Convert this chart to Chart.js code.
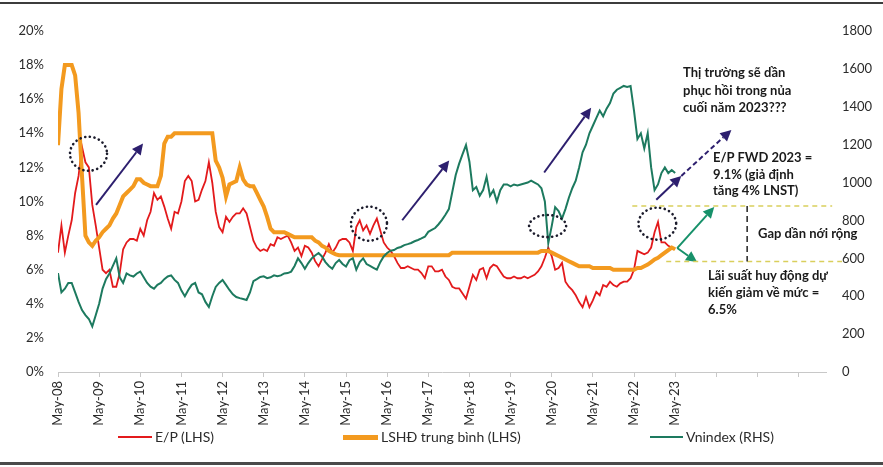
<!DOCTYPE html>
<html>
<head>
<meta charset="utf-8">
<script src="https://cdn.jsdelivr.net/npm/chart.js@4.4.0/dist/chart.umd.min.js"></script>
<style>
  body { margin: 0; background: #fff; }
  #wrap { position: relative; width: 883px; height: 467px; background: #fff; overflow: hidden; font-family: Lato, "Open Sans", sans-serif; }
  .frame { position: absolute; left: 0; width: 883px; background: #3c3c3c; }
  .note { position: absolute; font-weight: bold; font-size: 13px; color: #1a1a1a; white-space: nowrap; }
  .leg { position: absolute; font-size: 14px; color: #2b2b2b; line-height: 18px; white-space: nowrap; }
  .swatch { position: absolute; }
</style>
</head>
<body>
<div id="wrap">
  <canvas id="chart" width="883" height="467"></canvas>

  <div class="frame" style="top:2px;height:2px"></div>
  <div class="frame" style="top:462px;height:3px;background:#4a4a4a"></div>

  <div class="note" style="left:683px;top:64px;line-height:17.5px">Thị trường sẽ dần<br>phục hồi trong nủa<br>cuối năm 2023???</div>
  <div class="note" style="left:713px;top:149px;line-height:16.5px">E/P FWD 2023 =<br>9.1% (giả định<br>tăng 4% LNST)</div>
  <div class="note" style="left:758px;top:224px;line-height:18px">Gap dần nới rộng</div>
  <div class="note" style="left:708px;top:267px;line-height:17px">Lãi suất huy động dự<br>kiến giảm về mức =<br>6.5%</div>

  <div class="swatch" style="left:118px;top:436px;width:34px;height:2px;background:#e31a1c"></div>
  <div class="leg" style="left:155px;top:428px">E/P (LHS)</div>
  <div class="swatch" style="left:343px;top:435px;width:35px;height:5px;background:#f39a1f"></div>
  <div class="leg" style="left:381px;top:428px">LSHĐ trung bình (LHS)</div>
  <div class="swatch" style="left:650px;top:436px;width:33px;height:2px;background:#1d7a5f"></div>
  <div class="leg" style="left:686px;top:428px">Vnindex (RHS)</div>
</div>

<script>
// monthly points, month 0 = May-08
var tickLabels = ['May-08', 'May-09', 'May-10', 'May-11', 'May-12', 'May-13', 'May-14', 'May-15',
                  'May-16', 'May-17', 'May-18', 'May-19', 'May-20', 'May-21', 'May-22', 'May-23'];

var epValues = [
  7.0, 8.6, 7.0, 8.0, 8.9, 10.5, 11.5, 13.2, 12.3, 12.0,
  9.8, 8.6, 7.3, 6.0, 5.8, 6.0, 5.0, 5.0, 5.8, 7.2,
  7.6, 7.8, 7.8, 7.7, 8.4, 8.0, 8.9, 9.4, 10.5, 10.1,
  10.3, 9.7, 9.0, 8.4, 9.4, 9.3, 10.0, 11.2, 11.5, 11.2,
  10.0, 10.1, 10.7, 11.2, 12.3, 11.1, 9.4, 8.5, 8.2, 9.1,
  8.8, 9.1, 9.3, 9.3, 9.6, 9.3, 8.5, 7.7, 7.3, 7.1,
  7.2, 7.1, 7.5, 7.4, 7.9, 7.8, 7.9, 8.0, 7.6, 7.1,
  7.3, 6.8, 7.4, 7.3, 7.0, 6.5, 6.2, 6.6, 7.0, 7.5,
  7.0, 7.3, 7.7, 7.8, 7.8, 7.6, 7.1, 8.5, 8.9, 8.3,
  8.6, 8.1, 8.6, 9.0, 8.3, 7.6, 7.3, 7.1, 6.8, 6.4,
  6.1, 6.1, 6.2, 6.1, 6.0, 6.0, 5.8, 5.5, 6.2, 6.2,
  5.9, 5.9, 6.0, 5.6, 5.4, 5.0, 4.9, 4.9, 4.6, 4.3,
  5.0, 5.7, 5.4, 6.0, 6.1, 5.5, 6.1, 6.3, 6.2, 5.9,
  5.6, 5.5, 5.5, 5.6, 5.5, 5.5, 5.6, 5.5, 5.6, 5.7,
  5.9, 6.2, 6.7, 7.3, 6.8, 6.0, 6.1, 6.4, 5.3, 5.0,
  4.8, 4.5, 4.1, 3.8, 4.4, 3.8, 4.2, 4.7, 4.5, 5.1,
  5.0, 5.3, 5.1, 5.0, 5.2, 5.3, 5.3, 5.5, 6.0, 7.1,
  7.0, 6.9, 7.0, 7.3, 8.2, 8.8, 7.6, 7.6, 7.4, 7.3,
  7.2
];

var depositRate = [
  13.3, 16.6, 18.0, 18.0, 18.0, 17.4, 15.2, 11.5, 8.0, 7.6,
  7.4, 7.7, 7.9, 8.2, 8.4, 8.6, 9.0, 9.3, 9.8, 10.3,
  10.5, 10.7, 10.9, 11.3, 11.3, 11.1, 11.0, 10.9, 10.9, 10.9,
  11.5, 13.4, 13.8, 13.8, 14.0, 14.0, 14.0, 14.0, 14.0, 14.0,
  14.0, 14.0, 14.0, 14.0, 14.0, 14.0, 12.4, 12.0, 11.4, 10.3,
  11.0, 11.1, 11.2, 12.0, 11.3, 11.0, 10.9, 10.9, 10.5, 10.1,
  9.7, 9.1, 8.4, 8.2, 8.2, 8.2, 8.2, 8.1, 8.0, 7.9,
  7.9, 7.9, 7.9, 7.9, 7.9, 7.7, 7.6, 7.4, 7.3, 7.1,
  7.0, 6.9, 6.85, 6.85, 6.85, 6.85, 6.85, 6.85, 6.85, 6.85,
  6.85, 6.85, 6.85, 6.85, 6.85, 6.85, 6.85, 6.85, 6.85, 6.85,
  6.85, 6.85, 6.85, 6.85, 6.85, 6.85, 6.85, 6.85, 6.85, 6.85,
  6.85, 6.85, 6.85, 6.85, 6.85, 7.0, 7.0, 7.0, 7.0, 7.0,
  7.0, 7.0, 7.0, 7.0, 7.0, 7.0, 7.0, 7.0, 7.0, 7.0,
  7.0, 7.0, 7.0, 7.0, 7.0, 7.0, 7.0, 7.0, 7.0, 7.0,
  7.0, 7.1, 7.1, 7.1, 7.0, 6.9, 6.8, 6.7, 6.6, 6.5,
  6.4, 6.3, 6.2, 6.2, 6.2, 6.2, 6.1, 6.1, 6.1, 6.1,
  6.1, 6.1, 6.0, 6.0, 6.0, 6.0, 6.0, 6.0, 6.0, 6.1,
  6.1, 6.2, 6.3, 6.45, 6.6, 6.7, 6.85, 7.0, 7.15, 7.3,
  7.2
];

var vnindex = [
  522, 420, 440, 470, 470, 420, 370, 327, 300, 280,
  240, 300, 360, 440, 490, 520, 560, 600, 500, 470,
  520, 510, 504, 520, 530, 500, 470, 450, 440, 460,
  470, 490, 504, 510, 486, 470, 430, 400, 433, 460,
  470, 420, 410, 370, 343, 400, 449, 470, 486, 460,
  433, 410, 396, 390, 385, 380, 420, 480, 490, 502,
  505, 495, 500, 510, 505, 510, 520, 522, 530, 560,
  600, 575, 545, 575, 600, 615, 628, 610, 580, 560,
  545, 575, 591, 570, 557, 590, 600, 540, 580, 600,
  570, 560, 550, 540, 580, 610, 628, 640, 644, 655,
  660, 670, 675, 681, 690, 697, 705, 714, 740, 750,
  760, 780, 803, 830, 860, 950, 1040, 1100, 1150, 1198,
  1110, 960, 977, 930, 960, 1030, 930, 960, 900, 960,
  990, 990, 980, 990, 985, 990, 995, 1000, 1010, 1000,
  990, 970, 900, 680, 770, 870, 850, 810, 860, 920,
  970, 1010, 1080, 1160, 1200, 1260, 1300, 1340, 1380, 1350,
  1390, 1420, 1470, 1490, 1500, 1510, 1505, 1510, 1380, 1230,
  1260, 1180, 1260, 1080, 960, 990, 1050, 1080, 1050, 1066,
  1050
];

// callouts, in (month, % on left axis)
var circles = [
  { m: 8.9, v: 12.8, rm: 5.4, rv: 1.0 },
  { m: 90.7, v: 8.7, rm: 5.25, rv: 1.0 },
  { m: 142.8, v: 8.56, rm: 5.4, rv: 0.65 },
  { m: 174.8, v: 8.7, rm: 5.5, rv: 0.94 }
];
var navyArrows = [
  [11.1, 9.8, 24.8, 13.4],
  [100.4, 8.9, 114.1, 12.4],
  [141.8, 11.7, 155.5, 15.5],
  [174.5, 10.1, 181.8, 11.5]
];
var dashedArrow = [181.8, 11.5, 196.4, 14.2];
var greenArrows = [
  [180.6, 7.27, 191.4, 9.68],
  [180.6, 7.27, 186.4, 6.45]
];
var gapTop = [167.5, 225.8, 9.74];
var gapBottom = [177.4, 228.7, 6.48];
var gapMarker = [201, 9.74, 6.48];

function toPoints(arr) {
    return arr.map(function (v, i) { return { x: i, y: v }; });
}

function drawArrow(ctx, x1, y1, x2, y2, color, dashed) {
    var a = Math.atan2(y2 - y1, x2 - x1), L = 11, W = 5.5;
    var bx = x2 - L * Math.cos(a), by = y2 - L * Math.sin(a);
    ctx.strokeStyle = color;
    ctx.fillStyle = color;
    ctx.lineWidth = 2;
    ctx.lineCap = 'butt';
    ctx.setLineDash(dashed ? [5, 3] : []);
    ctx.beginPath();
    ctx.moveTo(x1, y1);
    ctx.lineTo(bx, by);
    ctx.stroke();
    ctx.setLineDash([]);
    ctx.beginPath();
    ctx.moveTo(x2, y2);
    ctx.lineTo(bx - W * Math.sin(a), by + W * Math.cos(a));
    ctx.lineTo(bx + W * Math.sin(a), by - W * Math.cos(a));
    ctx.closePath();
    ctx.fill();
}

var notesPlugin = {
    id: 'notes',
    afterDraw: function (chart) {
        var ctx = chart.ctx, xs = chart.scales.x, ys = chart.scales.y;
        var px = function (m) { return xs.getPixelForValue(m); };
        var py = function (v) { return ys.getPixelForValue(v); };
        ctx.save();

        ctx.strokeStyle = '#1c1c2c';
        ctx.lineWidth = 2.6;
        ctx.lineCap = 'round';
        ctx.setLineDash([0.1, 4.6]);
        circles.forEach(function (c) {
            var cx = px(c.m), cy = py(c.v);
            ctx.beginPath();
            ctx.ellipse(cx, cy, px(c.m + c.rm) - cx, cy - py(c.v + c.rv), 0, 0, Math.PI * 2);
            ctx.stroke();
        });

        navyArrows.forEach(function (a) {
            drawArrow(ctx, px(a[0]), py(a[1]), px(a[2]), py(a[3]), '#2d1f6e', false);
        });
        drawArrow(ctx, px(dashedArrow[0]), py(dashedArrow[1]), px(dashedArrow[2]), py(dashedArrow[3]), '#2d1f6e', true);
        greenArrows.forEach(function (a) {
            drawArrow(ctx, px(a[0]), py(a[1]), px(a[2]), py(a[3]), '#17916a', false);
        });

        ctx.lineWidth = 1.5;
        ctx.lineCap = 'butt';
        ctx.strokeStyle = '#d9cf5c';
        ctx.setLineDash([5, 4]);
        [gapTop, gapBottom].forEach(function (g) {
            ctx.beginPath();
            ctx.moveTo(px(g[0]), py(g[2]));
            ctx.lineTo(px(g[1]), py(g[2]));
            ctx.stroke();
        });
        ctx.strokeStyle = '#222';
        ctx.setLineDash([6, 4]);
        ctx.beginPath();
        ctx.moveTo(px(gapMarker[0]), py(gapMarker[1]));
        ctx.lineTo(px(gapMarker[0]), py(gapMarker[2]));
        ctx.stroke();

        ctx.restore();
    }
};

Chart.defaults.font.family = 'Lato, "Open Sans", sans-serif';
Chart.defaults.color = '#2b2b2b';

var ctx = document.getElementById('chart').getContext('2d');
var chart = new Chart(ctx, {
    type: 'line',
    data: {
        datasets: [{
            label: 'E/P (LHS)',
            data: toPoints(epValues),
            yAxisID: 'y',
            borderColor: '#e31a1c',
            borderWidth: 1.8,
            pointRadius: 0,
            tension: 0,
            order: 2
        }, {
            label: 'LSHĐ trung bình (LHS)',
            data: toPoints(depositRate),
            yAxisID: 'y',
            borderColor: '#f39a1f',
            borderWidth: 4,
            pointRadius: 0,
            tension: 0,
            order: 1
        }, {
            label: 'Vnindex (RHS)',
            data: toPoints(vnindex),
            yAxisID: 'y1',
            borderColor: '#1d7a5f',
            borderWidth: 2,
            pointRadius: 0,
            tension: 0,
            order: 0
        }]
    },
    options: {
        responsive: false,
        animation: false,
        devicePixelRatio: 1,
        layout: { padding: { top: 31, left: 0, right: 0, bottom: 0 } },
        plugins: { legend: { display: false }, tooltip: { enabled: false } },
        scales: {
            x: {
                type: 'linear',
                min: 0,
                max: 224,
                ticks: {
                    stepSize: 12,
                    autoSkip: false,
                    includeBounds: false,
                    minRotation: 90,
                    maxRotation: 90,
                    padding: 4,
                    font: { size: 13 },
                    callback: function (v) { return tickLabels[v / 12] || ''; }
                },
                grid: { display: true, drawOnChartArea: false, drawTicks: true, tickLength: 5, color: '#c8c8c8' },
                border: { display: true, color: '#c8c8c8' },
                afterFit: function (s) { s.height = 95; }
            },
            y: {
                position: 'left',
                min: 0,
                max: 20,
                ticks: {
                    stepSize: 2,
                    padding: 14,
                    font: { size: 13 },
                    callback: function (v) { return v + '%'; }
                },
                grid: { display: false, drawTicks: false },
                border: { display: false },
                afterFit: function (s) { s.width = 58; }
            },
            y1: {
                position: 'right',
                min: 0,
                max: 1800,
                ticks: {
                    stepSize: 200,
                    padding: 16,
                    font: { size: 13 },
                    callback: function (v) { return String(v); }
                },
                grid: { display: false, drawTicks: false },
                border: { display: false },
                afterFit: function (s) { s.width = 57; }
            }
        }
    },
    plugins: [notesPlugin]
});
</script>
</body>
</html>
